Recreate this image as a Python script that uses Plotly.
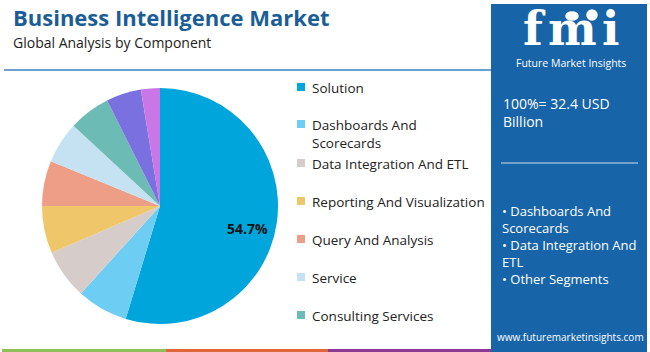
import plotly.graph_objects as go

# ---- data ----
segments = ["Solution", "Dashboards And Scorecards", "Data Integration And ETL",
            "Reporting And Visualization", "Query And Analysis", "Service",
            "Consulting Services", "Support And Maintenance", "Training And Education"]
shares = [54.7, 7.0, 6.8, 6.5, 6.2, 5.7, 5.7, 4.8, 2.6]
colors = ["#00A5DB", "#6DCDF3", "#D6CCCA", "#EFC76A", "#EE9E86", "#C4E2F2",
          "#6DBBB5", "#7A70E0", "#C976E6"]
legend_labels = ["Solution", "Dashboards And<br>Scorecards", "Data Integration And ETL",
                 "Reporting And Visualization", "Query And Analysis", "Service",
                 "Consulting Services"]
pie_text = ["54.7%", "", "", "", "", "", "", "", ""]

title = "Business Intelligence Market"
subtitle = "Global Analysis by Component"
total_text = "100%= 32.4 USD<br>Billion"
bullets = ["• Dashboards And<br>Scorecards", "• Data Integration And<br>ETL", "• Other Segments"]

W, H = 650, 352
def px(x): return x / W
def py(y): return 1 - y / H

FONT = "Open Sans"

fig = go.Figure()
cx, cy, r = 160, 206, 118
fig.add_trace(go.Pie(
    labels=segments, values=shares, sort=False, direction="clockwise", rotation=0,
    marker=dict(colors=colors, line=dict(width=0)),
    text=pie_text, textinfo="none", hoverinfo="label+percent",
    domain=dict(x=[px(cx - r), px(cx + r)], y=[py(cy + r), py(cy - r)]),
    showlegend=False,
))

shapes = []
ann = []

def text(x, y, t, size, color, xa="left", ya="middle", family=FONT, align="left"):
    ann.append(dict(x=px(x), y=py(y), xref="paper", yref="paper", xanchor=xa, yanchor=ya,
                    text=t, showarrow=False, align=align,
                    font=dict(family=family, size=size, color=color)))

# header
text(11, 17, "<b>" + title + "</b>", 22, "#1B5E96")
text(11, 42, subtitle, 14, "#222222")
shapes.append(dict(type="line", xref="paper", yref="paper", x0=px(4), x1=px(491), y0=py(70), y1=py(70),
                   line=dict(color="#3F7FBF", width=1.5)))
# bottom strip
for x0, x1, c in [(2, 166, "#8DC05A"), (166, 328, "#E0653A"), (328, 491, "#8E3A94")]:
    shapes.append(dict(type="rect", xref="paper", yref="paper", x0=px(x0), x1=px(x1), y0=py(352), y1=py(349),
                       line=dict(width=0), fillcolor=c))
# pie label
text(247, 229, "<b>" + pie_text[0] + "</b>", 14, "#151515", xa="center")
# legend
row_y = [87, 124, 163, 201, 239, 277, 315]
for i, lab in enumerate(legend_labels):
    y = row_y[i]
    shapes.append(dict(type="rect", xref="paper", yref="paper", x0=px(297), x1=px(305),
                       y0=py(y + 4), y1=py(y - 4), line=dict(width=0), fillcolor=colors[i]))
    text(310, y - 10, lab, 13.5, "#222222", ya="top")
# right panel
shapes.append(dict(type="rect", xref="paper", yref="paper", x0=px(491), x1=px(647), y0=py(352), y1=py(4),
                   line=dict(width=0), fillcolor="#1764A8", layer="below"))
for (ex, ey, rx, ry) in [(572, 16, 6, 4), (592, 15, 5, 5)]:
    shapes.append(dict(type="circle", xref="paper", yref="paper", x0=px(ex - rx), x1=px(ex + rx),
                       y0=py(ey + ry), y1=py(ey - ry), line=dict(color="white", width=1.5),
                       fillcolor="white"))
# logo letters (separately placed to widen the mark)
for ch, lx in [("f", 534), ("m", 572), ("i", 610)]:
    text(lx, 58, "<b>" + ch + "</b>", 46, "white", xa="center", ya="bottom", family="DejaVu Serif")
text(571, 63, "Future Market Insights", 10.5, "white", xa="center")
text(501, 92, total_text, 14, "white", ya="top")
shapes.append(dict(type="line", xref="paper", yref="paper", x0=px(501), x1=px(638), y0=py(163), y1=py(163),
                   line=dict(color="rgba(255,255,255,0.8)", width=1.2)))
text(500, 200, "<br>".join(bullets), 13, "white", ya="top")
text(570, 337, "www.futuremarketinsights.com", 10, "white", xa="center")

fig.update_layout(width=W, height=H, margin=dict(l=0, r=0, t=0, b=0),
                  paper_bgcolor="white", plot_bgcolor="white",
                  shapes=shapes, annotations=ann, showlegend=False)
fig.write_html("out.html")
